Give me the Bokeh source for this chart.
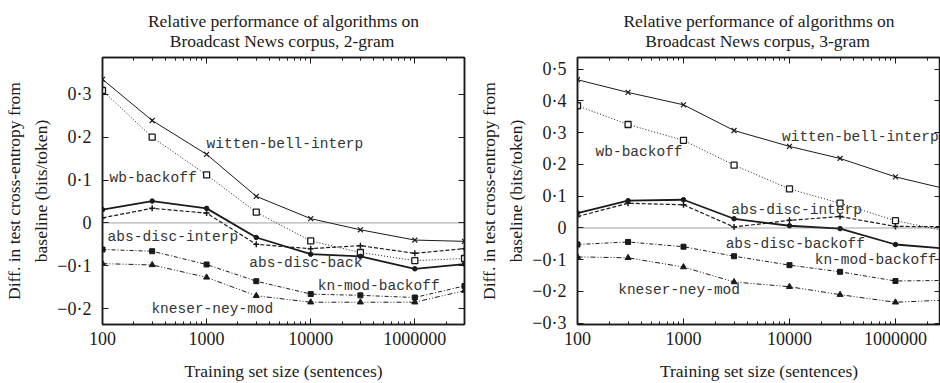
from bokeh.plotting import figure
from bokeh.layouts import row
from bokeh.models import FixedTicker, LogAxis, LinearAxis, Range1d, Span
from bokeh.core.properties import value
from bokeh.embed import file_html
from bokeh.resources import INLINE

# ---------------- data ----------------
sizes = [100, 300, 1000, 3000, 10000, 30000, 100000, 300000]

# 2-gram
bi_witten_bell_interp = [0.335, 0.239, 0.160, 0.062, 0.010, -0.016, -0.040, -0.043]
bi_wb_backoff = [0.309, 0.200, 0.112, 0.025, -0.042, -0.069, -0.088, -0.083]
bi_abs_disc_backoff = [0.031, 0.051, 0.034, -0.034, -0.073, -0.078, -0.107, -0.096]
bi_abs_disc_interp = [0.012, 0.034, 0.023, -0.050, -0.060, -0.053, -0.071, -0.060]
bi_kn_mod_backoff = [-0.062, -0.066, -0.097, -0.136, -0.166, -0.169, -0.174, -0.147]
bi_kneser_ney_mod = [-0.095, -0.098, -0.127, -0.170, -0.185, -0.185, -0.185, -0.158]

# 3-gram
tri_witten_bell_interp = [0.467, 0.427, 0.388, 0.307, 0.257, 0.219, 0.161, 0.123]
tri_wb_backoff = [0.385, 0.326, 0.276, 0.198, 0.123, 0.078, 0.023, -0.010]
tri_abs_disc_backoff = [0.047, 0.086, 0.089, 0.029, 0.007, -0.002, -0.052, -0.065]
tri_abs_disc_interp = [0.036, 0.078, 0.073, 0.003, 0.024, 0.036, 0.005, 0.004]
tri_kn_mod_backoff = [-0.052, -0.044, -0.059, -0.089, -0.117, -0.138, -0.167, -0.165]
tri_kneser_ney_mod = [-0.091, -0.094, -0.123, -0.170, -0.185, -0.210, -0.234, -0.227]

x_tick_values = [100, 1000, 10000, 100000]
x_tick_labels = ["100", "1000", "10000", "1000000"]

bi_y_ticks = [-0.2, -0.1, 0.0, 0.1, 0.2, 0.3]
bi_y_labels = ["\u22120\u00b72", "\u22120\u00b71", "0", "0\u00b71", "0\u00b72", "0\u00b73"]
tri_y_ticks = [-0.3, -0.2, -0.1, 0.0, 0.1, 0.2, 0.3, 0.4, 0.5]
tri_y_labels = ["\u22120\u00b73", "\u22120\u00b72", "\u22120\u00b71", "0", "0\u00b71",
                "0\u00b72", "0\u00b73", "0\u00b74", "0\u00b75"]

bi_title = "Relative performance of algorithms on\n\u00a0\u00a0\u00a0\u00a0\u00a0Broadcast News corpus, 2-gram"
tri_title = "Relative performance of algorithms on\n\u00a0\u00a0\u00a0\u00a0\u00a0Broadcast News corpus, 3-gram"

# in-plot label texts and anchor positions
bi_label_text = ["witten-bell-interp", "wb-backoff", "abs-disc-interp",
                 "abs-disc-back", "kn-mod-backoff", "kneser-ney-mod"]
bi_label_x = [1000, 117, 112, 2570, 11700, 295]
bi_label_y = [0.185, 0.105, -0.033, -0.093, -0.148, -0.200]

tri_label_text = ["witten-bell-interp", "wb-backoff", "abs-disc-interp",
                  "abs-disc-backoff", "kn-mod-backoff", "kneser-ney-mod"]
tri_label_x = [8500, 148, 2830, 2500, 17300, 242]
tri_label_y = [0.287, 0.240, 0.058, -0.050, -0.100, -0.195]

SERIF = "Liberation Serif"
MONO = "Liberation Mono"
INK = "#1a1a1a"

minor_x = [m * 10 ** e for e in range(2, 6) for m in range(2, 10)]


def make_panel(title, series, y_rng, y_ticks, y_labels, x_end, labels, border_left, border_right):
    p = figure(width=470, height=383, x_axis_type="log",
               x_range=Range1d(100, x_end), y_range=Range1d(*y_rng),
               output_backend="svg", toolbar_location=None,
               min_border_left=border_left, min_border_right=border_right,
               min_border_top=57, min_border_bottom=58)
    p.title.text = title
    p.title.align = "center"
    p.title.text_font = SERIF
    p.title.text_font_style = "normal"
    p.title.text_font_size = "17.5px"
    p.title.text_color = INK
    p.title.standoff = 13
    p.grid.visible = False
    p.outline_line_color = INK
    p.outline_line_width = 1.5
    p.background_fill_color = "white"
    p.border_fill_color = "white"

    xt = FixedTicker(ticks=x_tick_values, minor_ticks=minor_x)
    yt = FixedTicker(ticks=y_ticks)

    xa = p.xaxis[0]
    xa.ticker = xt
    xa.major_label_overrides = {v: l for v, l in zip(x_tick_values, x_tick_labels)}
    xa.axis_label = "Training set size (sentences)"
    ya = p.yaxis[0]
    ya.ticker = yt
    ya.major_label_overrides = {v: l for v, l in zip(y_ticks, y_labels)}
    ya.axis_label = "Diff. in test cross-entropy from\nbaseline (bits/token)"

    top = LogAxis(ticker=xt)
    right = LinearAxis(ticker=yt)
    p.add_layout(top, "above")
    p.add_layout(right, "right")

    for ax in (xa, ya, top, right):
        ax.axis_line_color = INK
        ax.axis_line_width = 1.5
        ax.major_tick_in = 6
        ax.major_tick_out = 0
        ax.major_tick_line_color = INK
        ax.minor_tick_in = 3
        ax.minor_tick_out = 0
        ax.minor_tick_line_color = INK
        ax.major_label_text_font = SERIF
        ax.major_label_text_font_size = "18px"
        ax.major_label_text_color = INK
        ax.axis_label_text_font = SERIF
        ax.axis_label_text_font_style = "normal"
        ax.axis_label_text_font_size = "17.5px"
        ax.axis_label_text_color = INK
    for ax in (ya, right):
        ax.minor_tick_line_color = None
    for ax in (top, right):
        ax.major_label_text_font_size = "1px"
        ax.major_label_text_color = None
        ax.major_label_standoff = 0
    xa.major_label_standoff = 7
    xa.axis_label_standoff = 13
    ya.major_label_standoff = 11
    ya.axis_label_standoff = 3
    ya.axis_label_text_line_height = 1.37

    p.add_layout(Span(location=0, dimension="width", line_color="#444444",
                      line_width=1, line_dash="1 1"))

    wbi, wbb, adi, adb, knb, knm = series
    # witten-bell-interp: solid, x markers
    p.line(sizes, wbi, line_color=INK, line_width=1)
    p.scatter(sizes, wbi, marker="x", size=7, line_color=INK, line_width=1.2)
    # wb-backoff: dotted, open squares
    p.line(sizes, wbb, line_color=INK, line_width=1, line_dash="1 2")
    p.scatter(sizes, wbb, marker="square", size=6, line_color=INK, fill_color="white", line_width=1.3)
    # abs-disc-interp: dashed, small plus
    p.line(sizes, adi, line_color=INK, line_width=1.2, line_dash="4 2")
    p.scatter(sizes, adi, marker="cross", size=6, line_color=INK, line_width=1.5)
    # abs-disc-backoff: thick solid, small dots
    p.line(sizes, adb, line_color=INK, line_width=1.8)
    p.scatter(sizes, adb, marker="circle", size=4.5, line_color=INK, fill_color=INK)
    # kn-mod-backoff: dash-dot, filled squares
    p.line(sizes, knb, line_color=INK, line_width=1, line_dash="4 2 1 2")
    p.scatter(sizes, knb, marker="square", size=5, line_color=INK, fill_color=INK)
    # kneser-ney-mod: dash-dot-dot, filled triangles
    p.line(sizes, knm, line_color=INK, line_width=1, line_dash="5 2 1 2 1 2")
    p.scatter(sizes, knm, marker="triangle", size=6, line_color=INK, fill_color=INK)

    lt, lx, ly = labels
    p.text(x=lx, y=ly, text=lt, text_font=value(MONO), text_font_size="14.5px",
           text_color="#333333", text_baseline="middle", text_align="left")
    return p


left = make_panel(bi_title,
                  [bi_witten_bell_interp, bi_wb_backoff, bi_abs_disc_interp,
                   bi_abs_disc_backoff, bi_kn_mod_backoff, bi_kneser_ney_mod],
                  (-0.237, 0.386), bi_y_ticks, bi_y_labels, 300000,
                  (bi_label_text, bi_label_x, bi_label_y), 100, 6)

right = make_panel(tri_title,
                   [tri_witten_bell_interp, tri_wb_backoff, tri_abs_disc_interp,
                    tri_abs_disc_backoff, tri_kn_mod_backoff, tri_kneser_ney_mod],
                   (-0.304, 0.537), tri_y_ticks, tri_y_labels, 266000,
                   (tri_label_text, tri_label_x, tri_label_y), 107, 0)

layout = row(left, right)
open("out.html", "w").write(file_html(layout, INLINE))
